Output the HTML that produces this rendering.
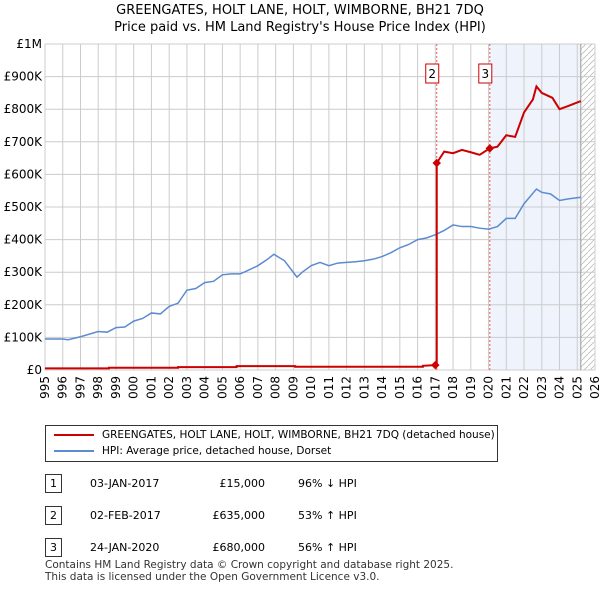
<!DOCTYPE html>
<html><head><meta charset="utf-8"><style>
body{margin:0;width:600px;height:590px;background:#fff;font-family:"DejaVu Sans","Liberation Sans",sans-serif;overflow:hidden;position:relative}
.t{position:absolute;font-size:12px;color:#000;white-space:nowrap}
</style></head><body>
<div class="t" style="left:0;width:600px;top:2px;text-align:center;font-size:13px;line-height:17px">GREENGATES, HOLT LANE, HOLT, WIMBORNE, BH21 7DQ<br>Price paid vs. HM Land Registry's House Price Index (HPI)</div>
<svg id="c" width="600" height="400" style="position:absolute;left:0;top:0;font-family:'DejaVu Sans',sans-serif"></svg>
<div style="position:absolute;left:45px;top:425px;width:451px;height:35px;border:1px solid #333;font-size:10.5px;white-space:nowrap">
<div style="position:absolute;left:8px;top:3px"><span style="display:inline-block;width:40px;height:2px;background:#c00;vertical-align:middle;margin-right:8px"></span>GREENGATES, HOLT LANE, HOLT, WIMBORNE, BH21 7DQ (detached house)</div>
<div style="position:absolute;left:8px;top:19px"><span style="display:inline-block;width:40px;height:2px;background:#5b8bd0;vertical-align:middle;margin-right:8px"></span>HPI: Average price, detached house, Dorset</div>
</div>
<div id="rows"></div>
<div class="t" style="left:45px;top:560px;font-size:10.5px;line-height:11.5px;color:#333">Contains HM Land Registry data © Crown copyright and database right 2025.<br>This data is licensed under the Open Government Licence v3.0.</div>
<script>
const hpiX=[1995,1996,1996.3,1997,1998,1998.5,1999,1999.5,2000,2000.5,2001,2001.5,2002,2002.5,2003,2003.5,2004,2004.5,2005,2005.5,2006,2006.3,2007,2007.5,2007.9,2008.5,2009.2,2009.5,2010,2010.5,2011,2011.5,2012,2012.5,2013,2013.5,2014,2014.5,2015,2015.5,2016,2016.5,2017,2017.5,2018,2018.5,2019,2019.5,2020,2020.5,2021,2021.5,2022,2022.7,2023,2023.5,2024,2024.5,2025.2];
const hpiY=[95,95,93,102,118,116,130,132,150,158,175,172,195,205,245,250,268,272,292,295,295,302,320,338,355,335,285,300,320,330,320,328,330,332,335,340,348,360,375,385,400,405,415,428,445,440,440,435,432,440,465,465,510,555,545,540,520,525,530];
const redX=[1995,1998.6,1998.6,2002.5,2002.5,2005.8,2005.8,2009.1,2009.1,2016.3,2016.3,2017.0,2017.08,2017.08,2017.5,2018,2018.5,2019,2019.5,2020.07,2020.5,2021,2021.5,2022,2022.5,2022.7,2023,2023.6,2024,2024.5,2025.2];
const redY=[5,5,7,7,9,9,12,12,10,10,13,15,15,635,670,665,675,668,660,680,685,720,715,790,830,870,850,835,800,810,825];
const sales=[[2017.0,15],[2017.08,635],[2020.07,680]];
const yTicks=[0,100,200,300,400,500,600,700,800,900,1000];
const yLabels=["£0","£100K","£200K","£300K","£400K","£500K","£600K","£700K","£800K","£900K","£1M"];
const x0=45,x1=595,y0=370,y1=44;
const X=t=>x0+(t-1995)/31*(x1-x0), Y=v=>y0-v/1000*(y0-y1);
const s=document.getElementById('c');const NS='http://www.w3.org/2000/svg';
function el(n,a,p){const e=document.createElementNS(NS,n);for(const k in a)e.setAttribute(k,a[k]);(p||s).appendChild(e);return e;}
const defs=el('defs',{});const pat=el('pattern',{id:'h',width:6,height:6,patternUnits:'userSpaceOnUse'},defs);
el('path',{d:'M0,6 L6,0',stroke:'#bbb','stroke-width':0.8},pat);
let e=el('rect',{x:X(2020.07),y:y1,width:X(2025.2)-X(2020.07),height:y0-y1,fill:'#eef3fc'});

e=el('rect',{x:X(2025.2),y:y1,width:x1-X(2025.2),height:y0-y1,fill:'url(#h)'});

for(let yr=1995;yr<=2026;yr++){el('line',{x1:X(yr),x2:X(yr),y1:y1,y2:y0,stroke:'#ccc'});
 const t=el('text',{x:0,y:0,'font-size':12,'text-anchor':'end',transform:`translate(${X(yr)+4},${y0+6}) rotate(-90)`});t.textContent=yr;
 }
yTicks.forEach((v,i)=>{el('line',{x1:x0,x2:x1,y1:Y(v),y2:Y(v),stroke:'#ccc'});
 const t=el('text',{x:x0-3,y:Y(v)+4,'font-size':12,'text-anchor':'end'});t.textContent=yLabels[i];
 });
el('line',{x1:X(2025.2),x2:X(2025.2),y1:y1,y2:y0,stroke:'#999'});
[[sales[1][0],'2'],[sales[2][0],'3']].forEach(([t,l])=>{
 el('line',{x1:X(t),x2:X(t),y1:y1,y2:y0,stroke:'#e55','stroke-dasharray':'2,2'});
 const g=el('g',{});
 el('rect',{x:X(t)-11,y:64,width:13,height:19,fill:'#fff',stroke:'#c00'},g);
 const tx=el('text',{x:X(t)-4.5,y:78,'font-size':12,'text-anchor':'middle'},g);tx.textContent=l;});
e=el('path',{d:hpiX.map((t,i)=>(i?'L':'M')+X(t)+','+Y(hpiY[i])).join(''),fill:'none',stroke:'#5b8bd0','stroke-width':1.5});

e=el('path',{d:redX.map((t,i)=>(i?'L':'M')+X(t)+','+Y(redY[i])).join(''),fill:'none',stroke:'#c00','stroke-width':2});

sales.forEach(([t,v])=>{e=el('rect',{x:X(t)-3,y:Y(v)-3,width:6,height:6,fill:'#c00',transform:`rotate(45 ${X(t)} ${Y(v)})`});
 });
const rows=[["1","03-JAN-2017","£15,000","96% ↓ HPI"],["2","02-FEB-2017","£635,000","53% ↑ HPI"],["3","24-JAN-2020","£680,000","56% ↑ HPI"]];
const R=document.getElementById('rows');
rows.forEach((r,i)=>{const top=474+i*32;const d=document.createElement('div');
 
 
 d.innerHTML=`<div class="t" style="left:45px;top:${top}px;width:15px;height:17px;border:1px solid #333;text-align:center;font-size:11px;line-height:17px">${r[0]}</div>
 <div class="t" style="left:90px;top:${top+3}px;font-size:11px">${r[1]}</div>
 <div class="t" style="left:180px;top:${top+3}px;width:85px;text-align:right;font-size:11px">${r[2]}</div>
 <div class="t" style="left:298px;top:${top+3}px;font-size:11px">${r[3]}</div>`;R.appendChild(d);});
</script>
</body></html>
